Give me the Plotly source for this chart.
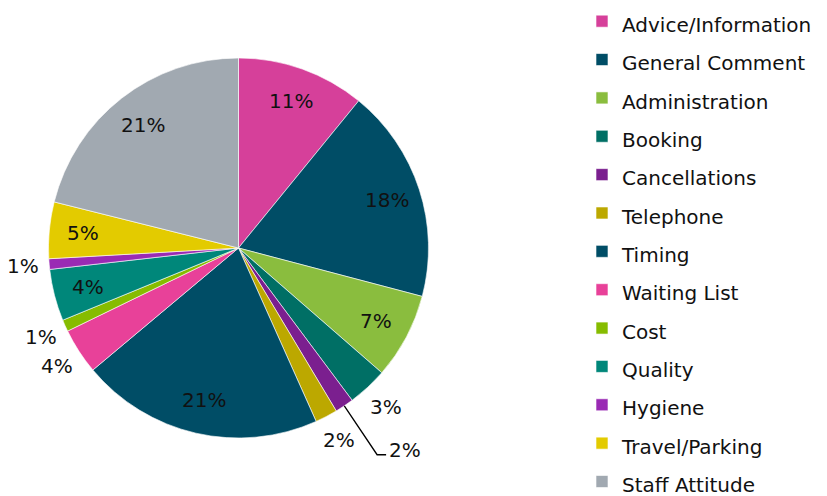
import math
import plotly.graph_objects as go

categories = ["Advice/Information", "General Comment", "Administration", "Booking",
              "Cancellations", "Telephone", "Timing", "Waiting List", "Cost",
              "Quality", "Hygiene", "Travel/Parking", "Staff Attitude"]
values = [10.9, 18.2, 7.3, 3.4, 1.6, 1.9, 20.6, 3.9, 1.0, 4.4, 0.9, 4.8, 21.1]
colors = ["#D6409A", "#004D66", "#8ABD3E", "#006F65", "#7B1F8F", "#BCA800",
          "#004D66", "#E84199", "#86BC00", "#00877A", "#9A2AB4", "#E3CB00", "#A1A9B1"]
label_modes = ["inside", "inside", "inside", "outside", "leader", "outside", "inside",
               "outside", "outside", "inside", "outside", "inside", "inside"]

FONT = "DejaVu Sans"
TXT = "#111111"
# page body has an 8px margin; figure sized so it fills the visible window
OFF = 8
W, H = 827 - OFF, 520
CX, CY, R = 238.5 - OFF, 248 - OFF, 190  # pie centre / radius in figure px


def px(x):
    return x / W


def py(y):
    return 1 - y / H


fig = go.Figure(go.Pie(
    labels=[f'<span style="font-size:20px">{c}</span>' for c in categories],
    values=values,
    sort=False,
    direction="clockwise",
    rotation=0,
    marker=dict(colors=colors, line=dict(color="white", width=0.6)),
    textinfo="none",
    domain=dict(x=[px(CX - R), px(CX + R)], y=[py(CY + R), py(CY - R)]),
    hoverinfo="label+percent",
))

total = sum(values)
annotations = []
shapes = []
cum = 0.0
for v, mode in zip(values, label_modes):
    mid = (cum + v / 2) / total
    cum += v
    th = 2 * math.pi * mid
    s, c = math.sin(th), math.cos(th)
    txt = f"{round(100 * v / total)}%"
    if mode == "leader":
        x0, y0 = CX + R * s, CY - R * c
        x1, y1 = CX + 1.31 * R * s, CY - 1.31 * R * c
        x2 = x1 + 9
        shapes.append(dict(type="path", xref="paper", yref="paper",
                           path=f"M {px(x0)} {py(y0)} L {px(x1)} {py(y1)} L {px(x2)} {py(y1)}",
                           line=dict(color="black", width=1.3)))
        annotations.append(dict(x=px(x2 + 1), y=py(y1 - 5), xref="paper", yref="paper",
                                text=txt, showarrow=False, xanchor="left", yanchor="middle",
                                font=dict(family=FONT, size=20, color=TXT)))
    else:
        r = 0.82 * R if mode == "inside" else 1.14 * R
        annotations.append(dict(x=px(CX + r * s), y=py(CY - r * c), xref="paper", yref="paper",
                                text=txt, showarrow=False, xanchor="center", yanchor="middle",
                                font=dict(family=FONT, size=20, color=TXT)))

fig.update_layout(
    width=W, height=H,
    margin=dict(l=0, r=0, t=0, b=0, autoexpand=False),
    paper_bgcolor="white",
    plot_bgcolor="white",
    font=dict(family=FONT, color=TXT),
    showlegend=True,
    annotations=annotations,
    shapes=shapes,
    legend=dict(
        x=px(601 - OFF - 19), xanchor="left", y=1 + 11 / H, yanchor="top",
        font=dict(family=FONT, size=27.2, color=TXT),
        traceorder="normal",
        bgcolor="rgba(0,0,0,0)",
        maxheight=H,
    ),
)

fig.write_html("out.html")
